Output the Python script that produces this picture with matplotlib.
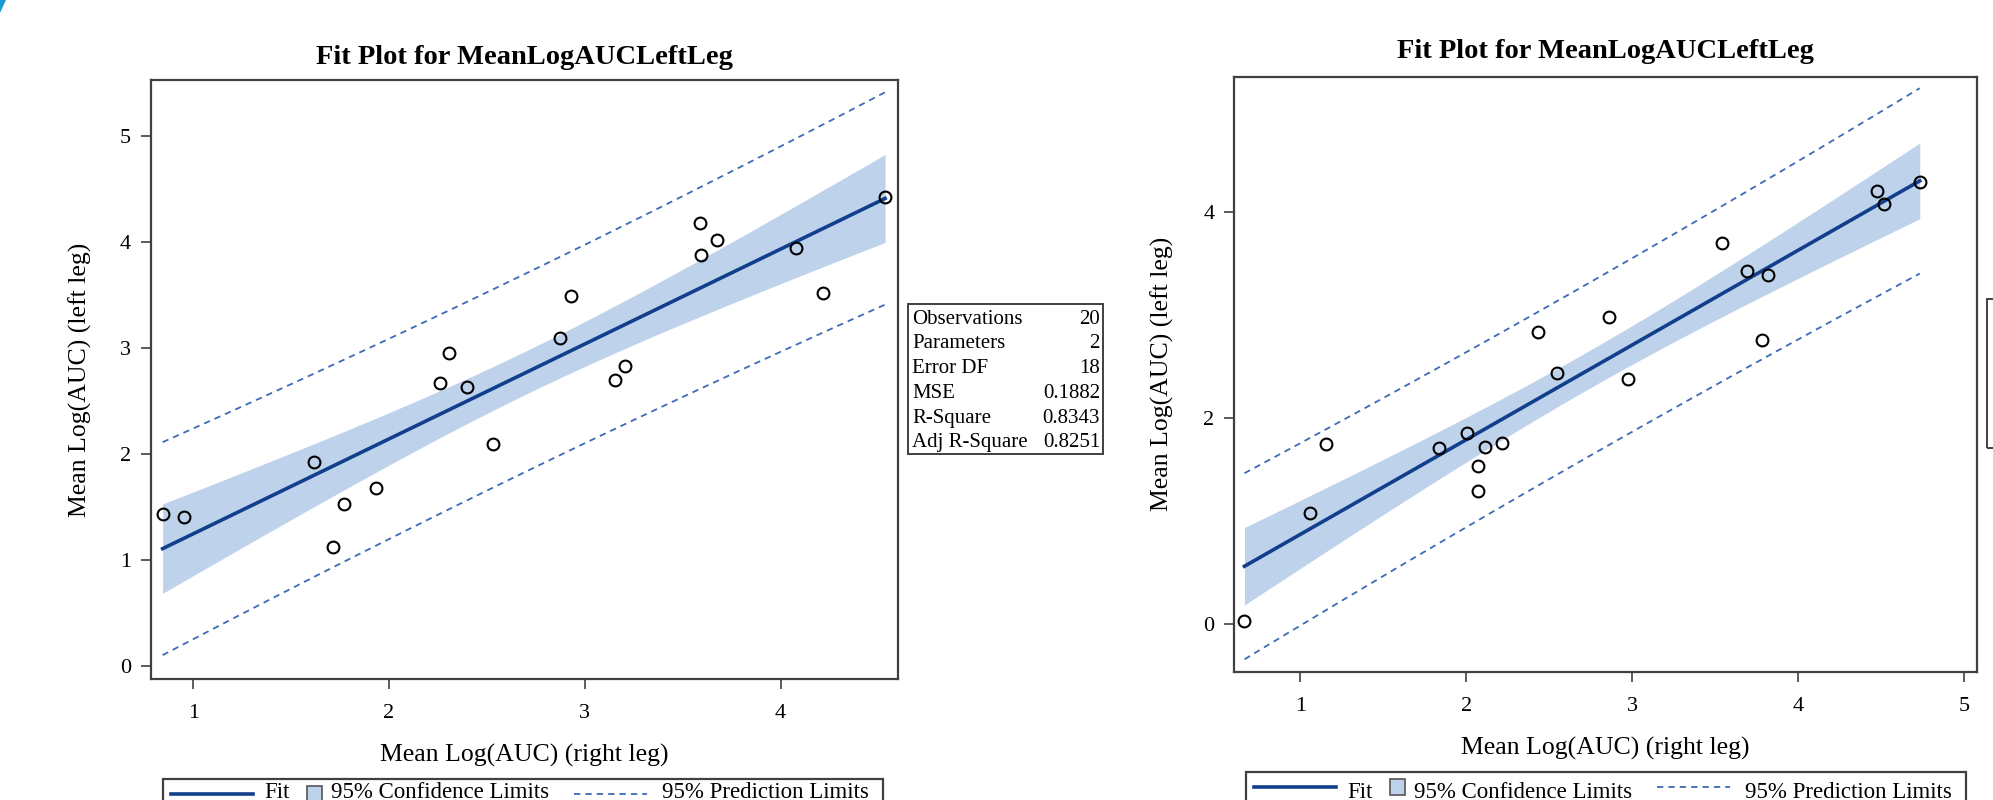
import numpy as np
import matplotlib
matplotlib.use("Agg")
import matplotlib.pyplot as plt  # noqa: E402
from matplotlib.lines import Line2D  # noqa: E402
from matplotlib.patches import Polygon, Rectangle  # noqa: E402

W, H = 1993, 800

# ── data ─────────────────────────────────────────────────────────────────────
# left panel: mean log(AUC), right leg (x) vs left leg (y)
right_leg_a = [0.844, 0.951, 1.619, 1.713, 1.769, 1.935, 2.261, 2.309, 2.401, 2.531,
               2.873, 2.928, 3.156, 3.205, 3.590, 3.596, 3.678, 4.078, 4.215, 4.534]
left_leg_a = [1.430, 1.407, 1.923, 1.124, 1.530, 1.681, 2.667, 2.956, 2.635, 2.096,
              3.094, 3.494, 2.698, 2.833, 4.180, 3.875, 4.020, 3.947, 3.516, 4.430]

# right panel
right_leg_b = [0.664, 1.057, 1.153, 1.836, 2.008, 2.069, 2.069, 2.115, 2.218, 2.435,
               2.550, 2.863, 2.977, 3.543, 3.695, 3.783, 3.821, 4.477, 4.516, 4.734]
left_leg_b = [0.032, 1.077, 1.748, 1.709, 1.855, 1.540, 1.297, 1.719, 1.758, 2.834,
              2.439, 2.980, 2.380, 3.703, 3.427, 2.763, 3.388, 4.212, 4.086, 4.293]

stat_names = ["Observations", "Parameters", "Error DF", "MSE", "R-Square", "Adj R-Square"]
stat_values = ["20", "2", "18", "0.1882", "0.8343", "0.8251"]

key_labels = ["Fit", "95% Confidence Limits", "95% Prediction Limits"]

T_975_DF18 = 2.1009  # t quantile for the 95% limits, 18 error df

FIT = "#123f8c"
BAND = "#bed3eb"
PRED = "#3d6bb5"
FRAME = "#404040"
SERIF = "Liberation Serif"


def fx(x):
    return x / W


def fy(y):
    return 1 - y / H


def fit_limits(x, y):
    x, y = np.asarray(x), np.asarray(y)
    n = len(x)
    b1, b0 = np.polyfit(x, y, 1)
    resid = y - (b0 + b1 * x)
    s = np.sqrt((resid ** 2).sum() / (n - 2))
    sxx = ((x - x.mean()) ** 2).sum()
    g = np.linspace(x.min(), x.max(), 200)
    f = b0 + b1 * g
    h = 1 / n + (g - x.mean()) ** 2 / sxx
    ci = T_975_DF18 * s * np.sqrt(h)
    pi = T_975_DF18 * s * np.sqrt(1 + h)
    return g, f, ci, pi


def panel(ax, x, y, xlim, ylim, xticks, yticks):
    g, f, ci, pi = fit_limits(x, y)
    ax.fill_between(g, f - ci, f + ci, color=BAND, lw=0, zorder=1)
    ax.plot(g, f, color=FIT, lw=2.6, zorder=3)
    for sgn in (-1, 1):
        ax.plot(g, f + sgn * pi, color=PRED, lw=1.3, dashes=(3.5, 2.8), zorder=2)
    ax.plot(x, y, "o", ms=8.5, mfc="none", mec="black", mew=1.5, zorder=4)
    ax.set_xlim(*xlim)
    ax.set_ylim(*ylim)
    ax.set_xticks(xticks)
    ax.set_yticks(yticks)
    ax.tick_params(direction="out", length=7, width=1.2, color=FRAME, labelsize=16)
    ax.tick_params(axis="x", pad=11)
    ax.tick_params(axis="y", pad=7)
    for lab in ax.get_xticklabels() + ax.get_yticklabels():
        lab.set_fontfamily(SERIF)
    for sp in ax.spines.values():
        sp.set_color(FRAME)
        sp.set_linewidth(1.6)


def draw_key(fig, x0, top):
    # legend strip under each plot (cut by the screenshot's bottom edge)
    mid = top + 15
    base = top + 26
    fig.add_artist(Rectangle((fx(x0), fy(top + 60)), 720 / W, 60 / H, transform=fig.transFigure,
                             fill=False, ec=FRAME, lw=1.6))
    fig.add_artist(Line2D([fx(x0 + 8), fx(x0 + 90)], [fy(mid), fy(mid)],
                          transform=fig.transFigure, color=FIT, lw=2.6))
    fig.add_artist(Rectangle((fx(x0 + 144), fy(mid + 8)), 15 / W, 16 / H, transform=fig.transFigure,
                             fc=BAND, ec="#555555", lw=1.2))
    fig.add_artist(Line2D([fx(x0 + 411), fx(x0 + 484)], [fy(mid), fy(mid)],
                          transform=fig.transFigure, color=PRED, lw=1.3, dashes=(3.5, 2.8)))
    for off, txt in zip([101, 168, 499], key_labels):
        fig.text(fx(x0 + off), fy(min(base, 798)), txt, family=SERIF, fontsize=16.5,
                 va="baseline", ha="left")


fig = plt.figure(figsize=(W / 100, H / 100), dpi=100)

# left panel
axl = fig.add_axes([fx(150.5), fy(679.3), fx(898 - 150.5), (679.3 - 80) / H])
panel(axl, right_leg_a, left_leg_a, (0.782, 4.60), (-0.128, 5.53), [1, 2, 3, 4], [0, 1, 2, 3, 4, 5])
fig.text(fx(524), fy(57), "Fit Plot for MeanLogAUCLeftLeg", family=SERIF, weight="bold",
         fontsize=20.5, ha="center", va="center")
fig.text(fx(524), fy(755), "Mean Log(AUC) (right leg)", family=SERIF, fontsize=18.5,
         ha="center", va="center")
fig.text(fx(80), fy(380), "Mean Log(AUC) (left leg)", family=SERIF, fontsize=18.5,
         rotation=90, ha="center", va="center")
draw_key(fig, 163, 779)

# fit statistics box
fig.add_artist(Rectangle((fx(908), fy(454)), 195 / W, 150 / H, transform=fig.transFigure,
                         fill=False, ec=FRAME, lw=1.4))
for i, (nm, val) in enumerate(zip(stat_names, stat_values)):
    yy = fy(319.3 + i * 24.7)
    fig.text(fx(912), yy, nm, family=SERIF, fontsize=15, ha="left", va="center")
    fig.text(fx(1100), yy, val, family=SERIF, fontsize=15, ha="right", va="center")

# right panel
axr = fig.add_axes([fx(1233.7), fy(671.7), fx(1977 - 1233.7), (671.7 - 76.7) / H])
panel(axr, right_leg_b, left_leg_b, (0.599, 5.079), (-0.464, 5.32), [1, 2, 3, 4, 5], [0, 2, 4])
fig.text(fx(1605), fy(52), "Fit Plot for MeanLogAUCLeftLeg", family=SERIF, weight="bold",
         fontsize=20.5, ha="center", va="center")
fig.text(fx(1605), fy(748), "Mean Log(AUC) (right leg)", family=SERIF, fontsize=18.5,
         ha="center", va="center")
fig.text(fx(1162), fy(374), "Mean Log(AUC) (left leg)", family=SERIF, fontsize=18.5,
         rotation=90, ha="center", va="center")
draw_key(fig, 1246, 772)

# stats box of the right panel, mostly off the screenshot
fig.add_artist(Rectangle((fx(1987), fy(448)), 40 / W, 149 / H, transform=fig.transFigure,
                         fill=False, ec=FRAME, lw=1.4))

# sliver of a blue UI element in the screenshot's top-left corner
fig.add_artist(Polygon([(fx(0), fy(0)), (fx(6), fy(0)), (fx(0), fy(13))], closed=True,
                       transform=fig.transFigure, fc="#1e9bd7", ec="none"))

fig.savefig("out.png", dpi=100)
